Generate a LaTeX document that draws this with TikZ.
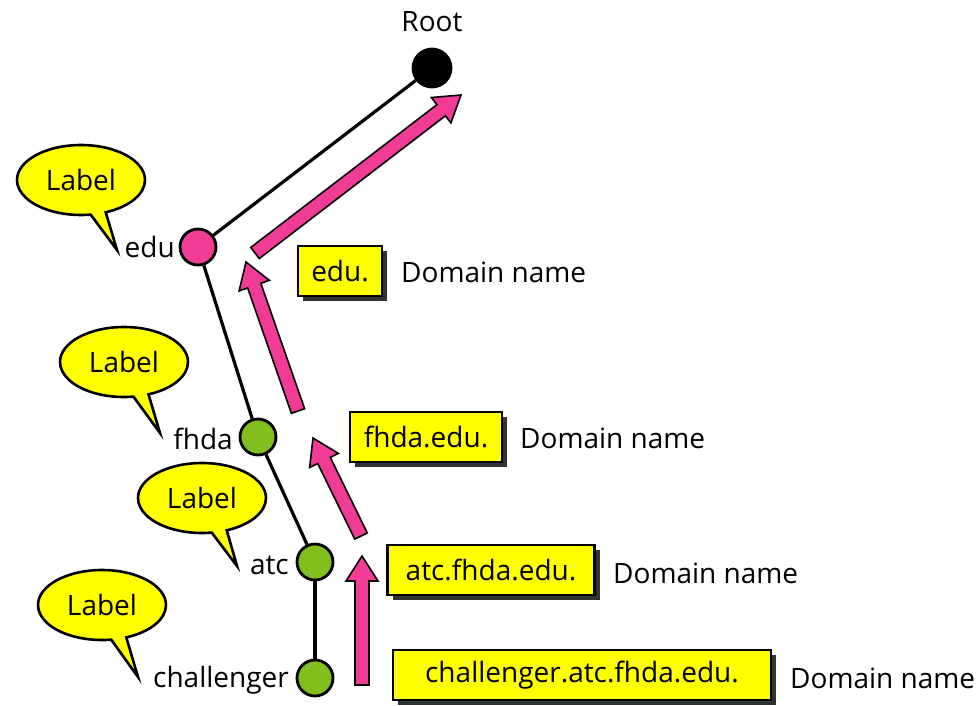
\documentclass[tikz,border=0pt]{standalone}
\usepackage{fontspec}
\setmainfont{Open Sans}
\usetikzlibrary{calc,shapes.callouts,shadows}
\definecolor{pinkc}{RGB}{240,60,150}
\definecolor{greenc}{RGB}{130,190,30}
\definecolor{yellowc}{RGB}{255,255,0}
\definecolor{shadowc}{RGB}{50,50,50}
\tikzset{
  txt/.style={font=\fontsize{28}{32}\selectfont, inner sep=0pt},
  vertex/.style={circle, draw=black, line width=2.8pt, minimum size=36pt, inner sep=0pt},
  edge/.style={draw=black, line width=3.2pt},
  namebox/.style={draw=black, line width=2.4pt, fill=yellowc, minimum height=50pt, inner sep=0pt,
    font=\fontsize{28}{32}\selectfont,
    drop shadow={shadow xshift=5pt, shadow yshift=-5pt, fill=shadowc, opacity=1}},
  bubble/.style={ellipse callout, draw=black, line width=2.6pt, fill=yellowc,
    minimum width=128pt, minimum height=70pt, inner sep=0pt, callout pointer arc=14,
    font=\fontsize{28}{32}\selectfont},
}
\newcommand{\fatarrow}[2]{%
  \coordinate (fh) at ($(#2)!25pt!(#1)$);
  \filldraw[fill=pinkc, draw=black, line width=1.6pt, line join=miter]
    ($(#1)!7pt!90:(#2)$) -- ($(fh)!7pt!90:(#2)$) -- ($(fh)!16pt!90:(#2)$) -- (#2)
    -- ($(fh)!16pt!-90:(#2)$) -- ($(fh)!7pt!-90:(#2)$) -- ($(#1)!7pt!-90:(#2)$) -- cycle;
}
\begin{document}
\begin{tikzpicture}[x=1pt,y=-1pt]
\useasboundingbox (0,0) rectangle (976,705);
% tree nodes
\node[vertex, fill=black, minimum size=38pt] (root) at (432,68) {};
\node[vertex, fill=pinkc] (edu) at (198,247) {};
\node[vertex, fill=greenc] (fhda) at (258,437) {};
\node[vertex, fill=greenc] (atc) at (315,562) {};
\node[vertex, fill=greenc] (chal) at (315,678) {};
\draw[edge] (root) -- (edu);
\draw[edge] (edu) -- (fhda);
\draw[edge] (fhda) -- (atc);
\draw[edge] (atc) -- (chal);
% labels
\node[txt] (troot) at (432,22) {Root};
\node[txt, anchor=east] (tedu) at (175,247) {edu};
\node[txt, anchor=east] (tfhda) at (233,439) {fhda};
\node[txt, anchor=east] (tatc) at (289,565) {atc};
\node[txt, anchor=east] (tchal) at (289,680) {challenger};
% callouts
\coordinate (p1) at (117,250);
\coordinate (p2) at (160,433);
\coordinate (p3) at (237,566);
\coordinate (p4) at (138,677);
\node[bubble, callout absolute pointer={(p1)}] (b1) at (81,180) {Label};
\node[bubble, callout absolute pointer={(p2)}] (b2) at (124,362) {Label};
\node[bubble, callout absolute pointer={(p3)}] (b3) at (202,498) {Label};
\node[bubble, callout absolute pointer={(p4)}] (b4) at (102,605) {Label};
% arrows
\coordinate (a1s) at (255,253);
\coordinate (a1e) at (461,95);
\coordinate (a2s) at (298,411);
\coordinate (a2e) at (246,262);
\coordinate (a3s) at (361,536);
\coordinate (a3e) at (313,438);
\coordinate (a4s) at (362,685);
\coordinate (a4e) at (362,556);
\fatarrow{a1s}{a1e}
\fatarrow{a2s}{a2e}
\fatarrow{a3s}{a3e}
\fatarrow{a4s}{a4e}
% domain name boxes
\node[namebox, minimum width=84pt] (d1) at (340,271) {edu.};
\node[namebox, minimum width=152pt] (d2) at (426,437) {fhda.edu.};
\node[namebox, minimum width=207pt] (d3) at (491,570) {atc.fhda.edu.};
\node[namebox, minimum width=378pt] (d4) at (582,675) {challenger.atc.fhda.edu.};
\node[txt, anchor=west] (n1) at (401,272) {Domain name};
\node[txt, anchor=west] (n2) at (520,438) {Domain name};
\node[txt, anchor=west] (n3) at (613,573) {Domain name};
\node[txt, anchor=west] (n4) at (790,678) {Domain name};
\end{tikzpicture}
\end{document}
